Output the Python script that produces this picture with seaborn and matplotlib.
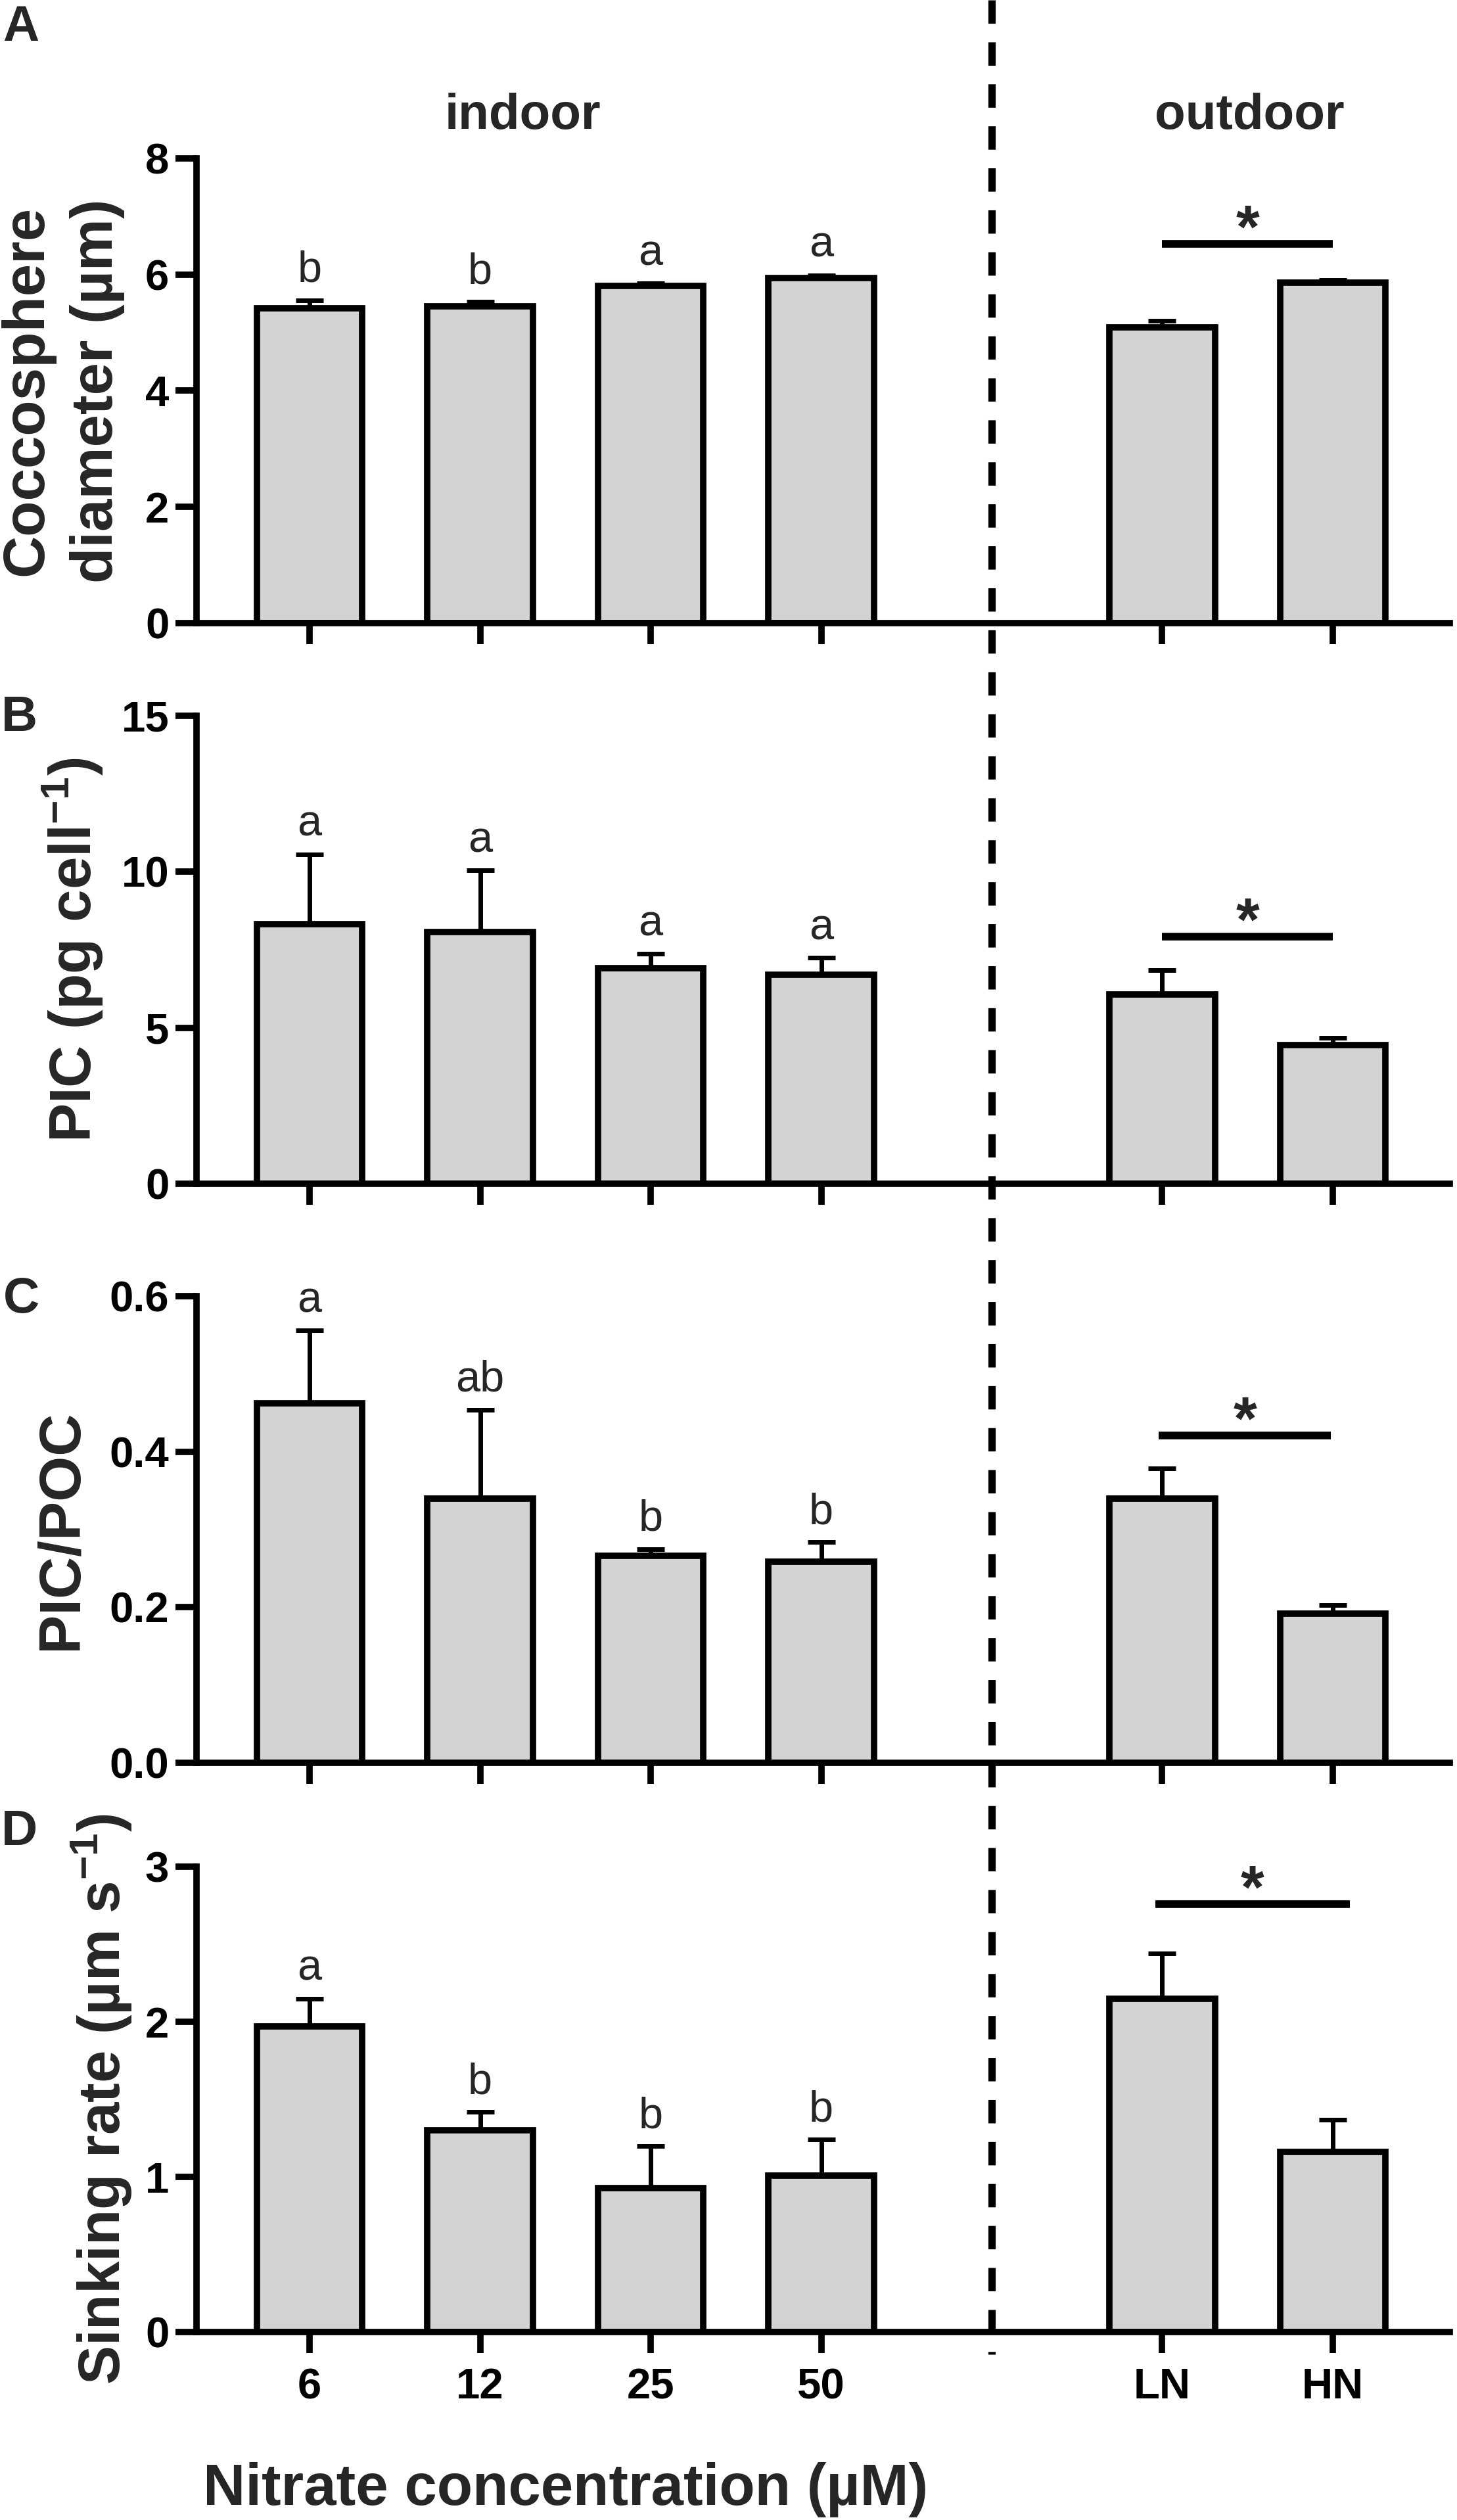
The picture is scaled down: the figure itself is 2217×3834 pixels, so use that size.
import matplotlib
matplotlib.use('Agg')
import matplotlib.pyplot as plt
from matplotlib.lines import Line2D
import pandas as pd
import seaborn as sns

# treatments (4 indoor nitrate levels + 2 outdoor)
treatments = ['6', '12', '25', '50', 'LN', 'HN']
slot_order = ['6', '12', '25', '50', '', 'LN', 'HN']   # '' = gap at the divider

diameter = [5.42, 5.45, 5.81, 5.94, 5.09, 5.86]
diameter_sd = [0.14, 0.08, 0.04, 0.05, 0.12, 0.05]
pic = [8.33, 8.07, 6.92, 6.70, 6.07, 4.44]
pic_sd = [2.23, 1.98, 0.45, 0.54, 0.77, 0.24]
pic_poc = [0.462, 0.340, 0.266, 0.259, 0.340, 0.192]
pic_poc_sd = [0.094, 0.114, 0.009, 0.025, 0.039, 0.011]
sinking = [1.97, 1.30, 0.93, 1.01, 2.15, 1.16]
sinking_sd = [0.18, 0.12, 0.27, 0.23, 0.29, 0.21]

letters_a = ['b', 'b', 'a', 'a']
letters_b = ['a', 'a', 'a', 'a']
letters_c = ['a', 'ab', 'b', 'b']
letters_d = ['a', 'b', 'b', 'b']

# LN vs HN significance bars
sig_y = [6.53, 7.93, 0.421, 2.76]
sig_from = [5.0, 5.0, 4.98, 4.96]
sig_to = [6.0, 6.0, 5.99, 6.10]

ylabels = ['Coccosphere\ndiameter (µm)',
           'PIC (pg cell$^{\\mathbf{-1}}$)',
           'PIC/POC',
           'Sinking rate (µm s$^{\\mathbf{-1}}$)']
yticks = [[0, 2, 4, 6, 8], [0, 5, 10, 15], [0.0, 0.2, 0.4, 0.6], [0, 1, 2, 3]]
ytick_labels = [['0', '2', '4', '6', '8'], ['0', '5', '10', '15'],
                ['0.0', '0.2', '0.4', '0.6'], ['0', '1', '2', '3']]
panel_tags = ['A', 'B', 'C', 'D']

means = [diameter, pic, pic_poc, sinking]
sds = [diameter_sd, pic_sd, pic_poc_sd, sinking_sd]
letters = [letters_a, letters_b, letters_c, letters_d]

sns.set_style('ticks')
plt.rcParams['font.family'] = ['Liberation Sans', 'DejaVu Sans']
plt.rcParams['font.weight'] = 'bold'
plt.rcParams['mathtext.fontset'] = 'custom'
plt.rcParams['mathtext.rm'] = 'Liberation Sans'
plt.rcParams['mathtext.bf'] = 'Liberation Sans:bold'
plt.rcParams['mathtext.it'] = 'Liberation Sans:italic'

W, H = 2217, 3834
fig = plt.figure(figsize=(W / 100, H / 100), dpi=100)

# axes frames in pixels: left, right, top, bottom
ax_left, ax_right = 299, 2206
tops = [241, 1089, 1972, 2840]
bottoms = [948, 1801, 2682, 3548]
label_x = [-0.107, -0.099, -0.108, -0.076]
tag_pos = [(4, 62), (2, 1112), (5, 1997), (2, 2807)]

axes = []
for i in range(4):
    rect = [ax_left / W, 1 - bottoms[i] / H, (ax_right - ax_left) / W,
            (bottoms[i] - tops[i]) / H]
    ax = fig.add_axes(rect)
    axes.append(ax)

    df = pd.DataFrame({'treatment': treatments, 'value': means[i]})
    sns.barplot(data=df, x='treatment', y='value', order=slot_order,
                color='#d3d3d3', saturation=1, width=0.62,
                edgecolor='black', linewidth=7, errorbar=None, ax=ax, zorder=2)

    xpos = [slot_order.index(t) for t in treatments]
    ax.errorbar(xpos, means[i], yerr=[[0] * len(sds[i]), sds[i]], fmt='none',
                ecolor='black', elinewidth=5, capsize=15, capthick=5, zorder=1)

    for j, lab in enumerate(letters[i]):
        ax.annotate(lab, (xpos[j], means[i][j] + sds[i][j]), xytext=(0, 20),
                    textcoords='offset points', ha='center', va='baseline',
                    fontsize=48, fontweight='normal')

    ax.plot([sig_from[i], sig_to[i]], [sig_y[i], sig_y[i]], color='black',
            lw=8.4, solid_capstyle='butt', clip_on=False)
    ax.annotate('*', ((sig_from[i] + sig_to[i]) / 2, sig_y[i]), xytext=(0, -4),
                textcoords='offset points', ha='center', va='baseline',
                fontsize=66, fontweight='bold')

    ax.set_xlim(-0.663, 6.686)
    ax.set_ylim(yticks[i][0], yticks[i][-1])
    ax.set_yticks(yticks[i])
    ax.set_yticklabels(ytick_labels[i])
    ax.set_xticks(xpos)
    ax.set_xticklabels(treatments)
    ax.set_xlabel('')
    ax.set_ylabel(ylabels[i], fontsize=64, fontweight='bold', linespacing=1.35)
    ax.yaxis.label.set_va('center')
    ax.yaxis.set_label_coords(label_x[i], 0.5)

    sns.despine(ax=ax)
    for side in ['left', 'bottom']:
        ax.spines[side].set_linewidth(7)
        ax.spines[side].set_color('black')
    ax.tick_params(axis='both', width=7, length=23, color='black',
                   labelsize=47, labelcolor='black')
    ax.tick_params(axis='y', pad=7)
    ax.tick_params(axis='x', pad=16)
    if i < 3:
        ax.tick_params(axis='x', labelbottom=False)

    fig.text(tag_pos[i][0] / W, 1 - tag_pos[i][1] / H, panel_tags[i],
             ha='left', va='baseline', fontsize=55, fontweight='bold')

# group headers above panel A
top_ax = axes[0]
top_ax.text(1.25, 1.064, 'indoor', transform=top_ax.get_xaxis_transform(),
            ha='center', va='baseline', fontsize=55, fontweight='bold')
top_ax.text(5.51, 1.064, 'outdoor', transform=top_ax.get_xaxis_transform(),
            ha='center', va='baseline', fontsize=55, fontweight='bold')

# shared x label under panel D
bot_ax = axes[3]
bot_ax.set_xlabel('Nitrate concentration (µM)', fontsize=64, fontweight='bold')
bot_ax.xaxis.label.set_va('baseline')
bot_ax.xaxis.set_label_coords(0.2947, -0.372)

# dashed divider between indoor and outdoor, through all panels
div_x = fig.transFigure.inverted().transform(
    bot_ax.transData.transform((slot_order.index(''), 0)))[0]
fig.add_artist(Line2D([div_x, div_x], [1.0, 1 - 3582 / H],
                      transform=fig.transFigure, color='black', lw=8,
                      linestyle=(0, (3.2, 2.55)), dash_capstyle='butt'))

fig.savefig('out.png', dpi=100, facecolor='white')
